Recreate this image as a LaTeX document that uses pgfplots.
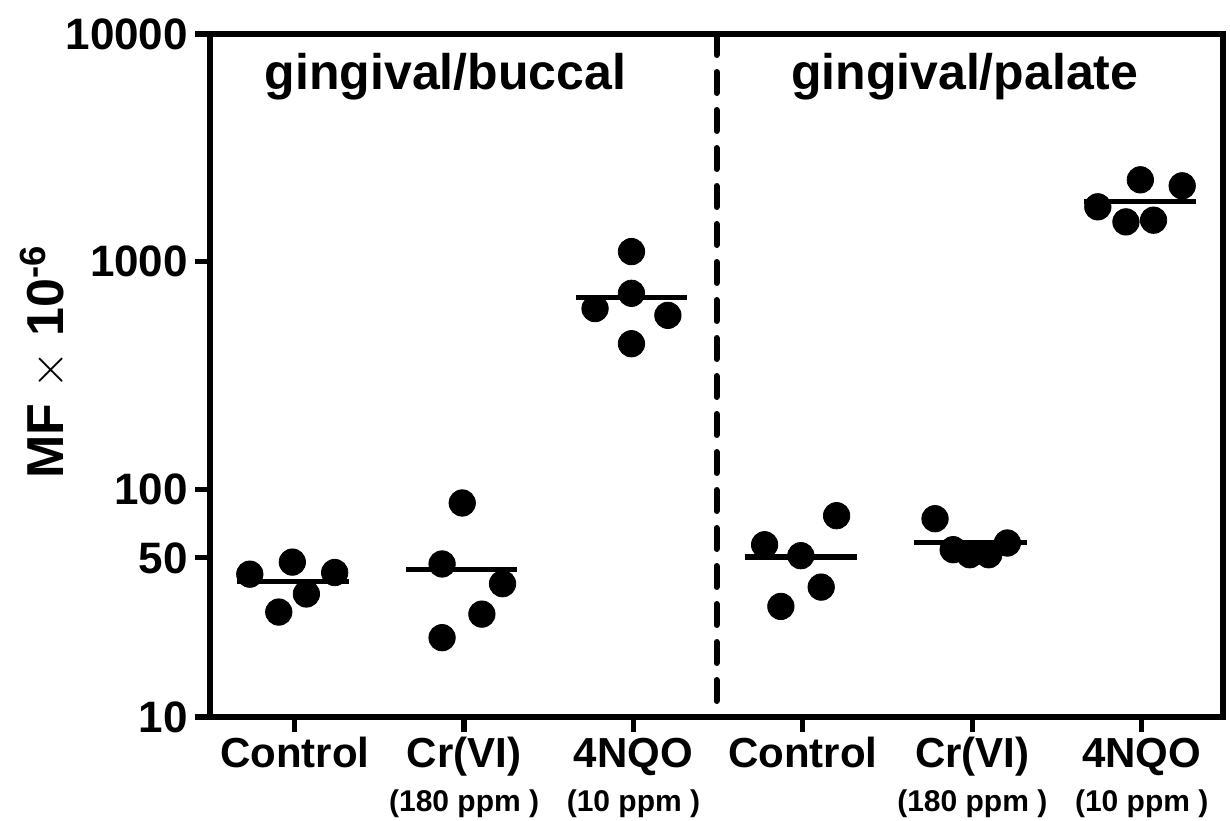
\documentclass[border=0pt]{standalone}
\usepackage{pgfplots}
\pgfplotsset{compat=1.18}
\usepackage{fontspec}
\setmainfont{Liberation Sans}
\newcommand\subfont{\fontsize{15}{18}\selectfont}
% two-line category label, every line of the same height
\newcommand\lab[2]{#1\vphantom{(}\\[1pt]{\subfont\vphantom{(}#2}}

\begin{document}
\begin{tikzpicture}
\begin{semilogyaxis}[
    scale only axis,
    width=506.5pt, height=341.5pt,
    xmin=0.5, xmax=6.48,
    ymin=10, ymax=10000,
    axis line style={line width=2.6pt},
    tick align=outside,
    tick pos=left,
    major tick length=7.5pt,
    major tick style={line width=2.6pt, black},
    minor ytick={},
    xtick={1,2,3,4,5,6},
    xticklabels={\lab{Control}{},
        \lab{Cr(VI)}{(180 ppm )},
        \lab{4NQO}{(10 ppm )},
        \lab{Control}{},
        \lab{Cr(VI)}{(180 ppm )},
        \lab{4NQO}{(10 ppm )}},
    xticklabel style={align=center, anchor=north, font=\bfseries\fontsize{21}{21}\selectfont, yshift=1pt},
    ytick={10,50,100,1000,10000},
    yticklabels={10,50,100,1000,10000},
    yticklabel style={font=\bfseries\fontsize{22}{22}\selectfont},
    ylabel={\bfseries\fontsize{26}{26}\selectfont MF {\mdseries$\times$} 10\textsuperscript{-6}},
    ylabel style={at={(axis description cs:-0.164,0.52)}, anchor=center},
    clip=false,
]
    % individual values
    \addplot[only marks, mark=*, mark size=6.6pt, black] coordinates {
        (0.735,42.4) (0.986,47.9) (1.236,43.1) (1.069,34.7) (0.906,28.9)
        (1.989,87.1) (1.870,47.0) (2.227,38.5) (2.105,28.3) (1.870,22.3)
        (2.988,1107) (2.988,726) (2.773,622) (3.203,581) (2.988,436)
        (4.199,76.6) (3.774,57.1) (3.988,51.1) (4.108,37.2) (3.870,30.6)
        (4.780,74.3) (4.887,54.3) (4.985,51.6) (5.097,51.6) (5.207,58.1)
        (5.992,2288) (6.239,2153) (5.741,1741) (5.907,1495) (6.070,1521)
    };
    % means
    \addplot[black, line width=2.6pt] coordinates {(0.657,39.4) (1.320,39.4)};
    \addplot[black, line width=2.6pt] coordinates {(1.658,44.6) (2.315,44.6)};
    \addplot[black, line width=2.6pt] coordinates {(2.659,697) (3.316,697)};
    \addplot[black, line width=2.6pt] coordinates {(3.656,50.4) (4.317,50.4)};
    \addplot[black, line width=2.6pt] coordinates {(4.657,58.5) (5.324,58.5)};
    \addplot[black, line width=2.6pt] coordinates {(5.662,1838) (6.320,1838)};
    % group separator
    \draw[line width=3pt, line cap=round, dash pattern=on 10.5pt off 8.5pt]
        (axis cs:3.49,10000) -- (axis cs:3.49,10);
    \node[anchor=base, font=\bfseries\fontsize{25}{25}\selectfont] at (axis cs:1.89,5728) {gingival/buccal};
    \node[anchor=base, font=\bfseries\fontsize{25}{25}\selectfont] at (axis cs:4.955,5728) {gingival/palate};
    \coordinate (sw) at (rel axis cs:0,0);
    \coordinate (ne) at (rel axis cs:1,1);
\end{semilogyaxis}
\pgfresetboundingbox
\path[use as bounding box] ([shift={(-105pt,-52pt)}]sw) rectangle ([shift={(3.5pt,17pt)}]ne);
\end{tikzpicture}
\end{document}
